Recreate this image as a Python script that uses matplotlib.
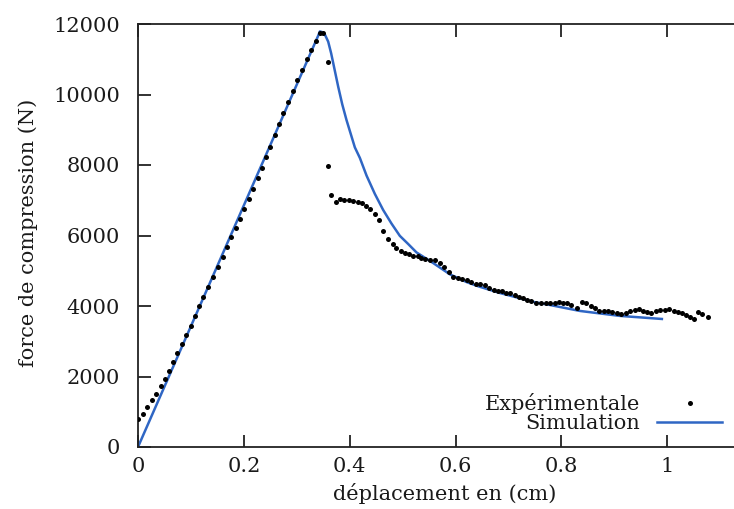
import matplotlib
matplotlib.use("Agg")
import matplotlib.pyplot as plt

# Experimental data (displacement cm, force N)
exp_x = [0.0006, 0.0088, 0.0176, 0.0258, 0.034, 0.0428, 0.0504, 0.0585, 0.0667, 0.0743,
         0.0825, 0.0907, 0.0994, 0.1083, 0.115, 0.1234, 0.1328, 0.1423, 0.1511, 0.16,
         0.1687, 0.1763, 0.1851, 0.1926, 0.2002, 0.209, 0.2178, 0.226, 0.234, 0.2417,
         0.2499, 0.258, 0.2663, 0.2745, 0.2833, 0.2921, 0.3009, 0.3097, 0.3186, 0.3273,
         0.3356, 0.3437, 0.3488, 0.3588, 0.3594, 0.3651, 0.3733, 0.3815, 0.3896, 0.3985,
         0.4066, 0.4149, 0.4225, 0.43, 0.4388, 0.4476, 0.4551, 0.4633, 0.4728, 0.481,
         0.4885, 0.4967, 0.5042, 0.5118, 0.52, 0.5282, 0.5357, 0.5433, 0.5515, 0.5609,
         0.5703, 0.5785, 0.5873, 0.5955, 0.6038, 0.6125, 0.6208, 0.6302, 0.6378, 0.6465,
         0.6553, 0.6635, 0.6723, 0.6805, 0.6887, 0.6963, 0.7038, 0.712, 0.7201, 0.7277,
         0.7352, 0.7435, 0.753, 0.7624, 0.7705, 0.7794, 0.7875, 0.7957, 0.8032, 0.8108,
         0.8191, 0.8297, 0.8398, 0.8474, 0.8555, 0.8631, 0.8712, 0.8801, 0.8882, 0.8965,
         0.9052, 0.9135, 0.9216, 0.9305, 0.9386, 0.9468, 0.9543, 0.9619, 0.9701, 0.9783,
         0.9871, 0.9953, 1.0034, 1.0123, 1.0204, 1.0287, 1.0362, 1.0438, 1.05, 1.0582,
         1.0665, 1.0771]
exp_y = [786, 936, 1144, 1333, 1504, 1731, 1920, 2165, 2411, 2676,
         2912, 3177, 3432, 3716, 3990, 4264, 4530, 4814, 5098, 5382,
         5666, 5950, 6204, 6459, 6743, 7027, 7320, 7632, 7925, 8227,
         8520, 8843, 9155, 9467, 9788, 10100, 10403, 10696, 10999, 11263,
         11528, 11755, 11755, 10914, 7972, 7149, 6942, 7036, 6999, 6999,
         6988, 6960, 6914, 6846, 6752, 6619, 6431, 6128, 5901, 5750,
         5637, 5561, 5504, 5466, 5428, 5410, 5371, 5334, 5296, 5296,
         5211, 5116, 4956, 4832, 4786, 4766, 4738, 4672, 4633, 4610,
         4596, 4502, 4454, 4435, 4435, 4378, 4360, 4322, 4265, 4227,
         4170, 4133, 4095, 4095, 4095, 4095, 4095, 4114, 4095, 4076,
         4038, 3934, 4114, 4076, 4000, 3934, 3868, 3868, 3849, 3840,
         3792, 3764, 3792, 3868, 3887, 3906, 3868, 3840, 3811, 3868,
         3887, 3887, 3906, 3868, 3830, 3792, 3755, 3698, 3641, 3840,
         3773, 3698]

# Simulation curve
sim_x = [0.0, 0.340, 0.3437, 0.350, 0.3532, 0.3594, 0.365, 0.3716, 0.3783, 0.386,
         0.394, 0.4098, 0.4193, 0.4319, 0.4476, 0.4633, 0.479, 0.4948, 0.5105, 0.5263,
         0.542, 0.5577, 0.5735, 0.5892, 0.605, 0.6208, 0.6428, 0.6837, 0.709, 0.746,
         0.778, 0.835, 0.910, 0.990]
sim_y = [0, 11650, 11790, 11760, 11700, 11500, 11169, 10700, 10223, 9720,
         9277, 8500, 8200, 7700, 7180, 6724, 6340, 5990, 5760, 5520,
         5370, 5220, 5060, 4900, 4790, 4680, 4560, 4370, 4270, 4120,
         4030, 3860, 3720, 3632]

x_ticks = [0, 0.2, 0.4, 0.6, 0.8, 1.0]
x_ticklabels = ["0", "0.2", "0.4", "0.6", "0.8", "1"]
y_ticks = [0, 2000, 4000, 6000, 8000, 10000, 12000]

plt.rcParams['font.family'] = ['DejaVu Serif']
FS = 15
TXT = '#1a1a1a'

fig = plt.figure(figsize=(7.34, 5.09), dpi=100)
W, H = 734, 509
ax_left, ax_right, ax_top, ax_bot = 138, 773, 24, 447
ax = fig.add_axes([ax_left / W, (H - ax_bot) / H, (ax_right - ax_left) / W, (ax_bot - ax_top) / H])

ax.plot(sim_x, sim_y, color='#2f66c4', lw=1.8, label='Simulation', zorder=2,
        solid_joinstyle='round')
ax.plot(exp_x, exp_y, linestyle='none', marker='o', ms=3.6, color='black',
        markeredgewidth=0, label='Expérimentale', zorder=3)

ax.set_xlim(0, 1.2)
ax.set_ylim(0, 12000)
ax.set_xticks(x_ticks)
ax.set_xticklabels(x_ticklabels)
ax.set_yticks(y_ticks)
ax.tick_params(axis='both', direction='in', length=9, width=1.3, top=True, right=True,
               labelsize=FS, labelcolor=TXT, color='#222222')
ax.tick_params(axis='x', pad=7)
ax.tick_params(axis='y', pad=13)
for s in ax.spines.values():
    s.set_linewidth(1.3)
    s.set_color('#222222')

ax.set_xlabel('déplacement en (cm)', fontsize=FS, color=TXT)
ax.xaxis.set_label_coords(0.4827, -0.084)
ax.set_ylabel('force de compression (N)', fontsize=FS, color=TXT)
ax.yaxis.set_label_coords(-0.1575, 0.506)

h, l = ax.get_legend_handles_labels()
leg = ax.legend([h[1], h[0]], [l[1], l[0]], loc='lower right',
                bbox_to_anchor=(722 / W, (H - 433) / H), bbox_transform=fig.transFigure,
                frameon=False, markerfirst=False, fontsize=FS, handlelength=3.1,
                handletextpad=0.85, labelspacing=0.0, borderpad=0, borderaxespad=0,
                numpoints=1)
for t in leg.get_texts():
    t.set_color(TXT)

fig.savefig('out.png', dpi=100)
